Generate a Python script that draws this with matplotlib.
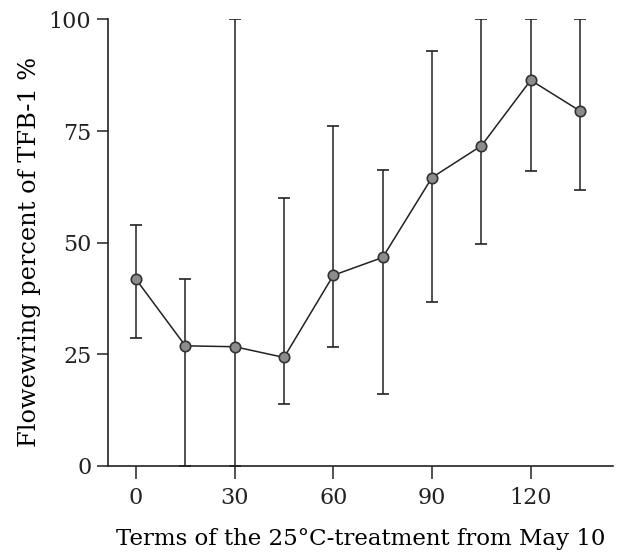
import matplotlib.pyplot as plt

# days of 25°C treatment, mean flowering % and error bar limits
days = [0, 15, 30, 45, 60, 75, 90, 105, 120, 135]
flowering = [41.8, 26.9, 26.7, 24.3, 42.7, 46.7, 64.6, 71.7, 86.4, 79.5]
err_high = [53.9, 41.8, 100.0, 59.9, 76.2, 66.2, 92.9, 100.0, 100.0, 100.0]
err_low = [28.6, 0.0, 0.0, 13.9, 26.6, 16.2, 36.8, 49.7, 66.0, 61.9]

lower = [m - lo for m, lo in zip(flowering, err_low)]
upper = [hi - m for m, hi in zip(flowering, err_high)]

plt.rcParams['font.family'] = ['DejaVu Serif']

fig = plt.figure(figsize=(6.21, 5.56), dpi=100)
ax = fig.add_axes([0.174, 0.162, 0.813, 0.803])

ax.errorbar(days, flowering, yerr=[lower, upper], color='#222222',
            lw=1.1, elinewidth=1.1, capsize=4, capthick=1.1,
            marker='o', ms=7.5, mfc='#8c8c8c', mec='#333333', mew=1.2)

ax.set_xlim(-8.5, 145)
ax.set_ylim(0, 100)
ax.set_xticks([0, 30, 60, 90, 120])
ax.set_yticks([0, 25, 50, 75, 100])

for side in ('top', 'right'):
    ax.spines[side].set_visible(False)
for side in ('left', 'bottom'):
    ax.spines[side].set_linewidth(1.2)
    ax.spines[side].set_color('#222222')

ax.tick_params(axis='y', direction='out', length=8, width=1.1,
               labelsize=16, colors='#222222', pad=4)
ax.tick_params(axis='x', direction='out', length=9, width=1.1,
               labelsize=16, colors='#222222', pad=6)

ax.set_xlabel('Terms of the 25°C-treatment from May 10', fontsize=16.5, labelpad=14)
ax.set_ylabel('Flowewring percent of TFB-1 %', fontsize=17.3)
ax.yaxis.set_label_coords(-0.133, 0.48)

fig.savefig('out.png', dpi=100)
